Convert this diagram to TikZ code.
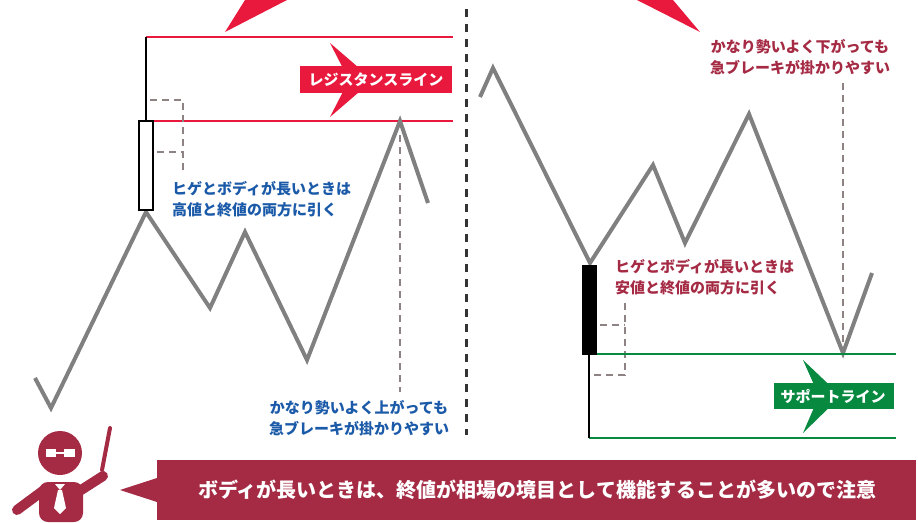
\documentclass[tikz,border=0pt]{standalone}
\usepackage{fontspec}
\setmainfont{Noto Sans CJK JP}
\definecolor{resred}{HTML}{E8193C}
\definecolor{supgreen}{HTML}{078A40}
\definecolor{noteblue}{HTML}{1B5AA8}
\definecolor{wine}{HTML}{A52A44}
\definecolor{price}{HTML}{808080}
\definecolor{guide}{HTML}{8E8383}

\begin{document}
\begin{tikzpicture}[x=1pt, y=-1pt,
    priceline/.style={price, line width=4, line join=miter},
    guideline/.style={guide, line width=1.6, dash pattern=on 7 off 5},
    level/.style={line width=2.5},
    note/.style={font=\fontsize{15}{21}\selectfont\bfseries, inner sep=0},
    tag/.style={font=\fontsize{15}{18}\selectfont\bfseries, text=white, inner sep=0}]
  \useasboundingbox (0,0) rectangle (918,522);

  % pointers at the top edge
  \fill[resred] (225,32) -- (245,0) -- (287,0) -- cycle;
  \fill[resred] (700,32) -- (673,0) -- (637,0) -- cycle;

  % resistance side
  \draw[level, resred] (146,37) -- (453,37);
  \draw[level, resred] (153,121) -- (453,121);
  \fill[resred] (330,43) -- (373,80) -- (330,117) -- (349,80) -- cycle;
  \fill[resred] (300,66) rectangle (452,93);
  \node[tag] (resist) at (376,79.5) {レジスタンスライン};

  \draw[guideline] (150,100) -- (183,100) -- (183,172);
  \draw[guideline] (157,152) -- (183,152);
  \draw[guideline] (400,135) -- (400,392);

  \draw[priceline] (35,378) -- (51,408) -- (146,212) -- (210,308) -- (245,232)
    -- (307,360) -- (400,121) -- (428,203);
  \draw[line width=1.5] (146,37) -- (146,121);
  \draw[line width=1.5, fill=white] (139,121) rectangle (153,210);

  \node[note, text=noteblue, align=left, anchor=west] (highnote) at (172,199)
    {ヒゲとボディが長いときは\\高値と終値の両方に引く};
  \node[note, text=noteblue, align=center] (upnote) at (359,418)
    {かなり勢いよく上がっても\\急ブレーキが掛かりやすい};

  % divider
  \draw[line width=3, black!80, dash pattern=on 8 off 7] (466,9) -- (466,435);

  % support side
  \draw[guideline] (843,83) -- (843,350);
  \draw[guideline] (600,325) -- (625,325);
  \draw[guideline] (625,303) -- (625,375) -- (593,375);

  \draw[priceline] (480,97) -- (493,68) -- (590,263) -- (653,165) -- (685,243)
    -- (749,114) -- (843,353) -- (872,273);
  \draw[level, supgreen] (597,354) -- (896,354);
  \draw[level, supgreen] (589,438) -- (896,438);
  \draw[line width=1.5] (589,355) -- (589,438);
  \fill (582,265) rectangle (597,355);

  \fill[supgreen] (803,360) -- (841,396) -- (803,433) -- (819,396) -- cycle;
  \fill[supgreen] (774,383) rectangle (894,409);
  \node[tag] (support) at (833,396) {サポートライン};

  \node[note, text=wine, align=left, anchor=west] (lownote) at (615,277.5)
    {ヒゲとボディが長いときは\\安値と終値の両方に引く};
  \node[note, text=wine, align=center] (downnote) at (800,57)
    {かなり勢いよく下がっても\\急ブレーキが掛かりやすい};

  % teacher with pointer
  \fill[wine] (60,453) circle (22);
  \fill[white] (46,449) rectangle (56,457);
  \fill[white] (64,449) rectangle (75,457);
  \fill[white] (56,452) rectangle (64,453.5);
  \fill[wine, rounded corners=9] (39,522) -- (39,482) -- (83,482) -- (83,522) -- cycle;
  \draw[wine, line width=10, line cap=round] (44,490) -- (17,510);
  \draw[wine, line width=10, line cap=round] (78,492) -- (103,476);
  \draw[wine, line width=4, line cap=round] (102,470) -- (110,428);
  \fill[white] (55,484) -- (65,484) -- (60,490) -- cycle;
  \fill[white] (58,490) -- (62,490) -- (66,508) -- (60,514) -- (54,508) -- cycle;

  % message bar
  \fill[wine] (120,490) -- (157,478) -- (157,502) -- cycle;
  \fill[wine] (157,460) rectangle (916,520);
  \node[tag, font=\fontsize{20}{22}\selectfont\bfseries] (message) at (537,490)
    {ボディが長いときは、終値が相場の境目として機能することが多いので注意};
\end{tikzpicture}
\end{document}
